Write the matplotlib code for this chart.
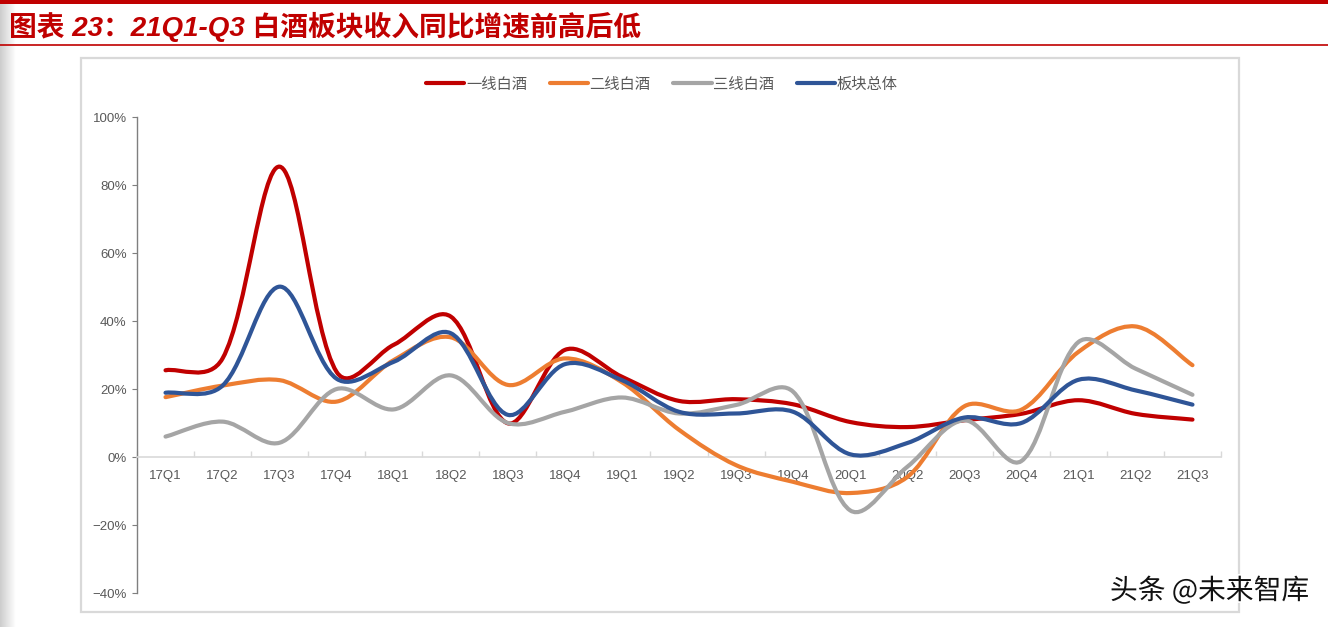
import numpy as np
import matplotlib
matplotlib.use("Agg")
import matplotlib.pyplot as plt
from matplotlib.path import Path
from matplotlib.patches import PathPatch, Rectangle
from matplotlib.lines import Line2D
from matplotlib.ticker import FuncFormatter, MultipleLocator, FixedLocator
import matplotlib.patheffects as pe

plt.rcParams['font.family'] = ['Liberation Sans', 'Noto Sans CJK SC', 'DejaVu Sans']

# ---------------- data ----------------
quarters = ["17Q1", "17Q2", "17Q3", "17Q4", "18Q1", "18Q2", "18Q3", "18Q4",
            "19Q1", "19Q2", "19Q3", "19Q4", "20Q1", "20Q2", "20Q3", "20Q4",
            "21Q1", "21Q2", "21Q3"]
tier1 = [25.5, 29.0, 85.4, 25.0, 33.0, 41.3, 9.9, 31.5, 23.6, 16.5, 17.0, 15.5,
         10.3, 8.8, 10.8, 12.7, 16.7, 12.7, 11.0]
tier2 = [17.6, 21.0, 22.6, 16.3, 28.5, 35.2, 21.2, 29.0, 22.0, 8.0, -2.4, -7.3,
         -10.6, -5.9, 14.9, 13.9, 30.9, 38.4, 27.0]
tier3 = [6.0, 10.4, 4.2, 20.0, 14.0, 24.0, 10.0, 13.3, 17.5, 12.8, 15.3, 19.2,
         -15.7, -2.9, 10.8, -1.2, 33.8, 26.0, 18.3]
sector = [18.9, 21.0, 50.1, 23.0, 28.0, 36.4, 12.4, 27.3, 22.6, 13.3, 12.8, 13.3,
          0.8, 4.1, 11.6, 10.0, 22.7, 19.6, 15.4]
series_names = ["一线白酒", "二线白酒", "三线白酒", "板块总体"]
series_values = [tier1, tier2, tier3, sector]
series_colors = ["#C00000", "#ED7D31", "#A5A5A5", "#2F5597"]
title_text = "图表 23：21Q1-Q3 白酒板块收入同比增速前高后低"
watermark = "头条 @未来智库"

W, H = 1328, 627
fig = plt.figure(figsize=(W / 100, H / 100), dpi=100)
fig.patch.set_facecolor("white")


def fx(px):
    return px / W


def fy(py):
    return 1 - py / H


# decorations: top red bar, red rule under the title, left grey gradient strip
fig.add_artist(Rectangle((0, fy(3.5)), 1, 3.5 / H, transform=fig.transFigure,
                         facecolor="#C00000", edgecolor="none", zorder=0))
fig.add_artist(Line2D([0, 1], [fy(44.5), fy(44.5)], transform=fig.transFigure,
                      color="#C00000", lw=1.2))
gax = fig.add_axes([0, 0, fx(16), fy(4)])
grad = np.linspace(0.80, 1.0, 64)[None, :]
gax.imshow(grad, aspect="auto", cmap="gray", vmin=0, vmax=1, extent=[0, 1, 0, 1])
gax.axis("off")
# chart frame
fig.add_artist(Rectangle((fx(81), fy(612)), fx(1239 - 81), (612 - 58) / H,
                         transform=fig.transFigure, facecolor="none",
                         edgecolor="#D9D9D9", lw=1.6))

fig.text(fx(9), fy(27), title_text, fontsize=20, fontweight="bold",
         fontstyle="italic", color="#C00000", ha="left", va="center")

# ---------------- axes ----------------
ax = fig.add_axes([fx(137), fy(593), fx(1221 - 137), (593 - 117) / H])
ax.set_facecolor("none")
n = len(quarters)
xs = np.arange(n, dtype=float)
ax.set_xlim(-0.5, n - 0.5)
ax.set_ylim(-40, 100)


def smooth_path(x, y, blend=0.5):
    """Excel-like smoothed line: cubic Bezier, tangents partly scaled by chord length."""
    pts = np.column_stack([x, y])
    disp = ax.transData.transform(pts)
    m = len(pts)
    before = pts.copy()
    after = pts.copy()
    for i in range(m):
        ip = max(i - 1, 0)
        inx = min(i + 1, m - 1)
        d = pts[inx] - pts[ip]
        l1 = np.hypot(*(disp[i] - disp[ip]))
        l2 = np.hypot(*(disp[inx] - disp[i]))
        tot = l1 + l2
        if tot == 0:
            continue
        w1 = blend * (l1 / tot) + (1 - blend) * 0.5
        w2 = blend * (l2 / tot) + (1 - blend) * 0.5
        before[i] = pts[i] - d * w1 / 3.0
        after[i] = pts[i] + d * w2 / 3.0
    verts = [pts[0]]
    codes = [Path.MOVETO]
    for i in range(m - 1):
        verts += [after[i], before[i + 1], pts[i + 1]]
        codes += [Path.CURVE4] * 3
    return Path(verts, codes)


for vals, col in zip(series_values, series_colors):
    patch = PathPatch(smooth_path(xs, np.array(vals, dtype=float)), facecolor="none",
                      edgecolor=col, lw=3.0, capstyle="round", joinstyle="round",
                      zorder=3)
    ax.add_patch(patch)

ax.yaxis.set_major_locator(MultipleLocator(20))
ax.yaxis.set_major_formatter(FuncFormatter(lambda v, p: f"{v:.0f}%".replace("-", "−")))

ax.set_xticks(xs)
ax.set_xticklabels(quarters)
ax.xaxis.set_minor_locator(FixedLocator(np.arange(-0.5, n, 1.0)))

for s in ["top", "right"]:
    ax.spines[s].set_visible(False)
ax.spines["bottom"].set_position(("data", 0))
ax.spines["bottom"].set_color("#D9D9D9")
ax.spines["bottom"].set_linewidth(1.2)
ax.spines["left"].set_color("#7F7F7F")
ax.spines["left"].set_linewidth(1.0)

ax.tick_params(axis="x", which="major", length=0, pad=9, labelsize=9.5,
               labelcolor="#595959")
ax.tick_params(axis="x", which="minor", length=4, direction="in", color="#D9D9D9",
               width=1.0)
ax.tick_params(axis="y", which="major", length=3.5, direction="out", color="#7F7F7F",
               pad=4, labelsize=9.5, labelcolor="#595959")

# legend
handles = [Line2D([], [], color=c, lw=3.0, solid_capstyle="round") for c in series_colors]
leg = fig.legend(handles, series_names, loc="center", bbox_to_anchor=(fx(662), fy(84)),
                 ncol=4, frameon=False, fontsize=11, handlelength=2.5,
                 handletextpad=0.1, columnspacing=1.5)
for t in leg.get_texts():
    t.set_color("#595959")
    t.set_fontfamily(["Noto Sans CJK SC", "DejaVu Sans"])

wm = fig.text(fx(1309), fy(591), watermark, fontsize=20, color="#111111",
              ha="right", va="center", family=["Noto Sans CJK SC", "DejaVu Sans"])
wm.set_path_effects([pe.withStroke(linewidth=2.5, foreground="white")])

fig.savefig("out.png", dpi=100, facecolor="white")
